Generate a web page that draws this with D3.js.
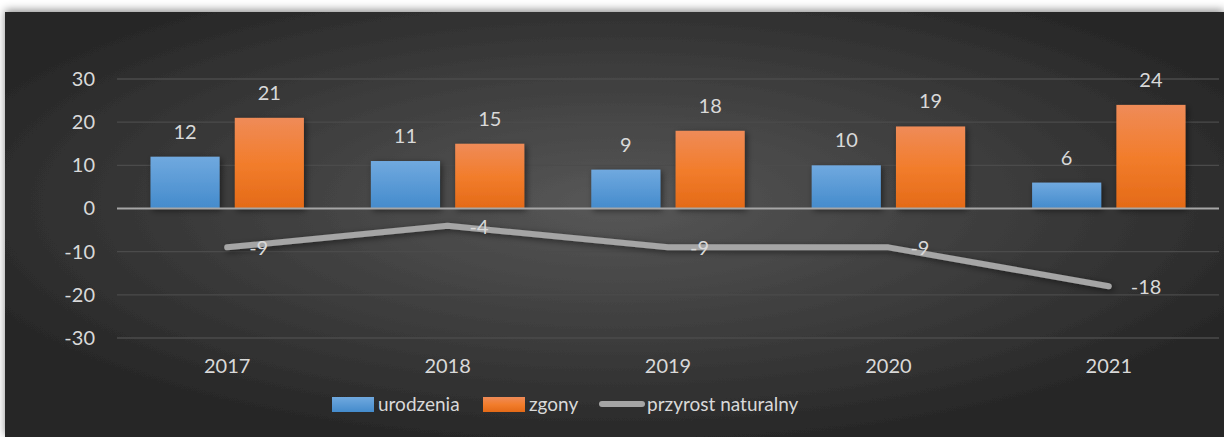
<!DOCTYPE html>
<html><head><meta charset="utf-8">
<script src="https://cdn.jsdelivr.net/npm/d3@7"></script>
<style>html,body{margin:0;padding:0;background:#fff;overflow:hidden}svg{display:block}</style>
</head><body>
<svg id="c" width="1224" height="437"></svg>
<script>
const years = ["2017","2018","2019","2020","2021"];
const urodzenia = [12, 11, 9, 10, 6];
const zgony = [21, 15, 18, 19, 24];
const przyrost = [-9, -4, -9, -9, -18];
const yTicks = [-30, -20, -10, 0, 10, 20, 30];
const seriesNames = ["urodzenia", "zgony", "przyrost naturalny"];

const svg = d3.select("#c");
const W = 1224, H = 437;
const defs = svg.append("defs");

const bg = defs.append("radialGradient").attr("id","bg").attr("cx","50%").attr("cy","45%").attr("r","60%")
  .attr("gradientUnits","objectBoundingBox").attr("fx","50%").attr("fy","45%");
bg.append("stop").attr("offset","0%").attr("stop-color","#575757");
bg.append("stop").attr("offset","100%").attr("stop-color","#252525");

const gb = defs.append("linearGradient").attr("id","gb").attr("x1",0).attr("y1",0).attr("x2",0).attr("y2",1);
gb.append("stop").attr("offset","0%").attr("stop-color","#70a9df");
gb.append("stop").attr("offset","100%").attr("stop-color","#448bcc");
const go = defs.append("linearGradient").attr("id","go").attr("x1",0).attr("y1",0).attr("x2",0).attr("y2",1);
go.append("stop").attr("offset","0%").attr("stop-color","#ef8b58");
go.append("stop").attr("offset","50%").attr("stop-color","#f27d2c");
go.append("stop").attr("offset","100%").attr("stop-color","#e46a17");

const sh = defs.append("filter").attr("id","sh").attr("x","-20%").attr("y","-20%").attr("width","150%").attr("height","150%");
sh.append("feDropShadow").attr("dx",2).attr("dy",2).attr("stdDeviation",3).attr("flood-color","#000").attr("flood-opacity",0.5);
const sh2 = defs.append("filter").attr("id","sh2").attr("x","-5%").attr("y","-20%").attr("width","110%").attr("height","150%");
sh2.append("feDropShadow").attr("dx",0).attr("dy",-2).attr("stdDeviation",4).attr("flood-color","#000").attr("flood-opacity",0.45);

// background panel
svg.append("rect").attr("x",5).attr("y",12).attr("width",W-5).attr("height",H-12)
  .attr("fill","url(#bg)").attr("filter","url(#sh2)");

const left = 117, right = 1219;
const x = d3.scaleBand().domain(years).range([left, right]).paddingInner(0).paddingOuter(0);
const y = d3.scaleLinear().domain([-30, 30]).range([338, 79]);
const inner = d3.scaleBand().domain(["u","z"]).range([33.5, x.bandwidth()-33.5]).paddingInner(0.18);

const font = "Lato, 'Open Sans', sans-serif";
const txt = "#d9d9d9";

// gridlines
svg.append("g").selectAll("line").data(yTicks.filter(d => d !== 0)).join("line")
  .attr("x1", left).attr("x2", right).attr("y1", d => y(d)).attr("y2", d => y(d))
  .attr("stroke", "#4b4b4b").attr("stroke-width", 1.3);

// y axis
const yAxis = d3.axisLeft(y).tickValues(yTicks).tickFormat(d => String(d)).tickSize(0).tickPadding(0);
const ya = svg.append("g").attr("transform", "translate(95,0)").call(yAxis);
ya.select(".domain").remove();
ya.selectAll("text").attr("fill", txt).style("font-family", font).style("font-size", "20px");

// bars
const g = svg.append("g");
[["u", urodzenia, "url(#gb)"], ["z", zgony, "url(#go)"]].forEach(([k, vals, fill]) => {
  g.append("g").selectAll("rect").data(vals).join("rect")
    .attr("x", (d, i) => x(years[i]) + inner(k))
    .attr("y", d => y(d)).attr("width", inner.bandwidth())
    .attr("height", d => y(0) - y(d)).attr("fill", fill).attr("filter", "url(#sh)");
  g.append("g").selectAll("text").data(vals).join("text")
    .attr("x", (d, i) => x(years[i]) + inner(k) + inner.bandwidth()/2)
    .attr("y", d => y(d) - 18).attr("text-anchor", "middle")
    .attr("fill", txt).style("font-family", font).style("font-size", "20px").text(d => String(d));
});

// zero line
svg.append("line").attr("x1", left).attr("x2", right).attr("y1", y(0)).attr("y2", y(0))
  .attr("stroke", "#a6a6a6").attr("stroke-width", 2);

// x axis labels
const xAxis = d3.axisBottom(x).tickSize(0).tickPadding(0);
const xa = svg.append("g").attr("transform", "translate(0,359)").call(xAxis);
xa.select(".domain").remove();
xa.selectAll("text").attr("fill", txt).style("font-family", font).style("font-size", "20px").attr("dy", "0.71em");

// line series
const cx = (d, i) => x(years[i]) + x.bandwidth()/2;
const line = d3.line().x(cx).y(d => y(d));
svg.append("path").datum(przyrost).attr("d", line).attr("fill", "none")
  .attr("stroke", "#a5a5a5").attr("stroke-width", 6).attr("stroke-linecap", "round")
  .attr("stroke-linejoin", "round").attr("filter", "url(#sh)");
svg.append("g").selectAll("text").data(przyrost).join("text")
  .attr("x", (d, i) => cx(d, i) + 22).attr("y", d => y(d) + 8)
  .attr("fill", txt).style("font-family", font).style("font-size", "20px").text(d => String(d));

// legend
const lg = svg.append("g");
const legY = 404;
lg.append("rect").attr("x", 332).attr("y", legY - 7).attr("width", 42).attr("height", 15).attr("fill", "url(#gb)");
lg.append("text").attr("x", 378).attr("y", legY + 7).text(seriesNames[0]);
lg.append("rect").attr("x", 483).attr("y", legY - 7).attr("width", 42).attr("height", 15).attr("fill", "url(#go)");
lg.append("text").attr("x", 529).attr("y", legY + 7).text(seriesNames[1]);
lg.append("line").attr("x1", 602).attr("x2", 642).attr("y1", legY).attr("y2", legY)
  .attr("stroke", "#a5a5a5").attr("stroke-width", 6).attr("stroke-linecap", "round");
lg.append("text").attr("x", 647).attr("y", legY + 7).text(seriesNames[2]);
lg.selectAll("text").attr("fill", txt).style("font-family", font).style("font-size", "19px");
</script>
</body></html>
